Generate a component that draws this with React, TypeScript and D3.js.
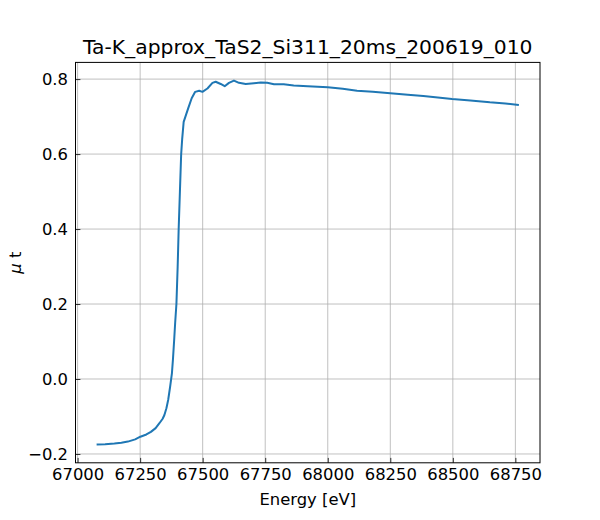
import { useEffect, useRef } from 'react';
import * as d3 from 'd3';

// values
const energy = [
  67076, 67110, 67147, 67175, 67201, 67230, 67251, 67275, 67293, 67312, 67327, 67340, 67347, 67355,
  67362, 67370, 67377, 67381, 67386, 67390, 67395, 67400, 67404, 67409, 67414, 67418, 67424, 67433,
  67442, 67456, 67470, 67486, 67499, 67519, 67539, 67552, 67572, 67588, 67605, 67625, 67645, 67672,
  67705, 67732, 67758, 67785, 67824, 67864, 67920, 68000, 68060, 68117, 68180, 68250, 68320, 68382,
  68440, 68497, 68570, 68648, 68710, 68764,
];
const mu = [
  -0.175, -0.174, -0.172, -0.17, -0.167, -0.161, -0.154, -0.148, -0.141, -0.131, -0.118, -0.106, -0.096, -0.078,
  -0.056, -0.02, 0.015, 0.051, 0.104, 0.15, 0.2, 0.3, 0.4, 0.5, 0.6, 0.64, 0.686, 0.704,
  0.722, 0.749, 0.766, 0.769, 0.766, 0.775, 0.79, 0.793, 0.787, 0.781, 0.79, 0.796, 0.79, 0.787,
  0.789, 0.791, 0.79, 0.786, 0.786, 0.783, 0.781, 0.778, 0.774, 0.769, 0.766, 0.762, 0.758, 0.755,
  0.751, 0.747, 0.743, 0.738, 0.735, 0.731,
];
const xTicks = [67000, 67250, 67500, 67750, 68000, 68250, 68500, 68750];
const yTicks = [-0.2, 0, 0.2, 0.4, 0.6, 0.8];
const title = 'Ta-K_approx_TaS2_Si311_20ms_200619_010';

const W = 600;
const H = 520;
const margin = { top: 62.4, right: 60, bottom: 57.2, left: 75.5 };
const font = 'DejaVu Sans, sans-serif';
const labelSize = '16.4px';

export default function App() {
  const svgRef = useRef<SVGSVGElement>(null);

  useEffect(() => {
    if (!svgRef.current) return;
    const svg = d3.select(svgRef.current);
    svg.selectAll('*').remove();

    const innerW = W - margin.left - margin.right;
    const innerH = H - margin.top - margin.bottom;

    // matplotlib-style 5% margins
    const [x0, x1] = d3.extent(energy) as [number, number];
    const [y0, y1] = d3.extent(mu) as [number, number];
    const dx = (x1 - x0) * 0.05;
    const dy = (y1 - y0) * 0.05;

    const x = d3.scaleLinear().domain([x0 - dx, x1 + dx]).range([0, innerW]);
    const y = d3.scaleLinear().domain([y0 - dy, y1 + dy]).range([innerH, 0]);

    svg.append('rect').attr('width', W).attr('height', H).attr('fill', '#fff');

    const g = svg.append('g').attr('transform', `translate(${margin.left},${margin.top})`);

    // grid
    g.append('g')
      .selectAll('line')
      .data(xTicks)
      .join('line')
      .attr('x1', d => x(d)).attr('x2', d => x(d))
      .attr('y1', 0).attr('y2', innerH)
      .attr('stroke', '#b0b0b0').attr('stroke-width', 0.8);
    g.append('g')
      .selectAll('line')
      .data(yTicks)
      .join('line')
      .attr('x1', 0).attr('x2', innerW)
      .attr('y1', d => y(d)).attr('y2', d => y(d))
      .attr('stroke', '#b0b0b0').attr('stroke-width', 0.8);

    // spectrum
    const line = d3.line<number>()
      .x((_, i) => x(energy[i]))
      .y(d => y(d));
    g.append('path')
      .datum(mu)
      .attr('fill', 'none')
      .attr('stroke', '#1f77b4')
      .attr('stroke-width', 2)
      .attr('stroke-linejoin', 'round')
      .attr('d', line);

    // axes with inward ticks
    const xAxis = g.append('g')
      .attr('transform', `translate(0,${innerH})`)
      .call(d3.axisBottom(x).tickValues(xTicks).tickSizeInner(-4.9).tickSizeOuter(0).tickPadding(6).tickFormat(d => String(d)));
    const yAxis = g.append('g')
      .call(d3.axisLeft(y).tickValues(yTicks).tickSizeInner(-4.9).tickSizeOuter(0).tickPadding(7.5).tickFormat(d3.format('.1f')));

    [xAxis, yAxis].forEach(ax => {
      ax.select('.domain').remove();
      ax.selectAll('line').attr('stroke', '#000').attr('stroke-width', 0.8);
      ax.selectAll('text')
        .attr('fill', '#000')
        .style('font-family', font)
        .style('font-size', labelSize);
    });
    yAxis.selectAll('text').text(d => d3.format('.1f')(d as number).replace('-', '\u2212'));

    // frame
    g.append('rect')
      .attr('width', innerW).attr('height', innerH)
      .attr('fill', 'none').attr('stroke', '#000').attr('stroke-width', 1);

    // labels
    svg.append('text')
      .attr('x', margin.left + innerW / 2)
      .attr('y', 54)
      .attr('text-anchor', 'middle')
      .style('font-family', font)
      .style('font-size', '20.3px')
      .text(title);

    svg.append('text')
      .attr('x', margin.left + innerW / 2)
      .attr('y', 505)
      .attr('text-anchor', 'middle')
      .style('font-family', font)
      .style('font-size', labelSize)
      .text('Energy [eV]');

    const yl = svg.append('text')
      .attr('transform', `translate(21,${margin.top + innerH / 2}) rotate(-90)`)
      .attr('text-anchor', 'middle')
      .style('font-family', font)
      .style('font-size', labelSize);
    yl.append('tspan').style('font-style', 'italic').text('\u03bc');
    yl.append('tspan').text(' t');
  }, []);

  return (
    <svg
      ref={svgRef}
      width={W}
      height={H}
      viewBox={`0 0 ${W} ${H}`}
      style={{ position: 'absolute', left: 0, top: 0 }}
    />
  );
}
